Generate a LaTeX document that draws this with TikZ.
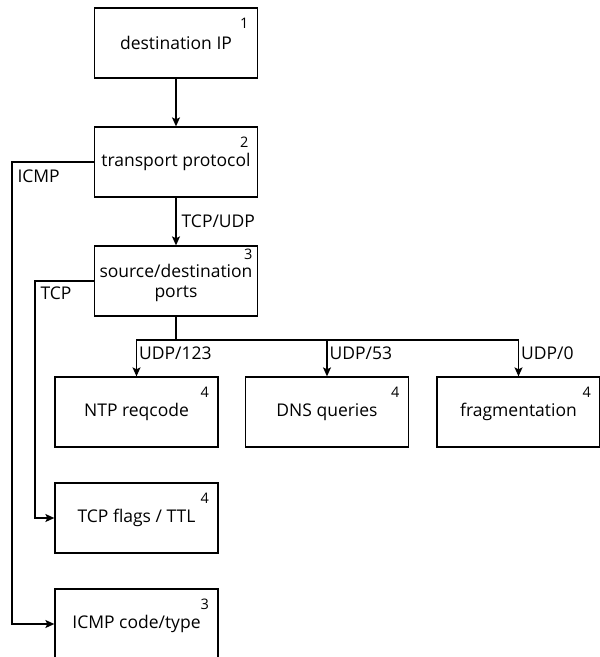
\documentclass[tikz,border=0pt]{standalone}
\usepackage{fontspec}
\setmainfont{Open Sans}
\usepackage{tikz}
\usetikzlibrary{arrows.meta, positioning, calc}

\begin{document}
\begin{tikzpicture}[x=1pt, y=-1pt, line width=1.3pt,
    >={Stealth[length=9pt, width=8pt, inset=2pt]},
    box/.style={draw, minimum width=163pt, minimum height=70pt, align=center, inner sep=0pt, font=\fontsize{17.5}{20}\selectfont},
    num/.style={anchor=north east, inner sep=0pt, font=\fontsize{14.5}{16}\selectfont},
    lbl/.style={font=\fontsize{17.5}{20}\selectfont, inner sep=2pt}]
          \useasboundingbox (0,0) rectangle (600,657);

          \node[box] (dst) at (176,43) {destination IP};
          \node[box] (proto) at (176,162) {transport protocol};
          \node[box, text depth=0pt] (ports) at (176,281) {source/destination\\ports};
          \node[box] (ntp) at (136.5,412) {NTP reqcode};
          \node[box] (dns) at (327,412) {DNS queries};
          \node[box] (frag) at (518.5,412) {fragmentation};
          \node[box] (tcpf) at (136.5,518) {TCP flags / TTL};
          \node[box] (icmp) at (136.5,624) {ICMP code/type};

          \node[num] (n1) at ($(dst.north east)+(-9,10)$) {1};
          \node[num] (n2) at ($(proto.north east)+(-9,10)$) {2};
          \node[num] (n3) at ($(ports.north east)+(-5,3)$) {3};
          \node[num] (n4a) at ($(ntp.north east)+(-9,10)$) {4};
          \node[num] (n4b) at ($(dns.north east)+(-9,10)$) {4};
          \node[num] (n4c) at ($(frag.north east)+(-9,10)$) {4};
          \node[num] (n4d) at ($(tcpf.north east)+(-9,10)$) {4};
          \node[num] (n3b) at ($(icmp.north east)+(-9,10)$) {3};

          \coordinate (bus) at (176,340);

          \draw[->] (dst) -- (proto);
          \draw[->] (proto) -- node[lbl, right=3pt] (ludp) {TCP/UDP} (ports);
          \draw[->] (proto.west) -- ++(-82,0) node[lbl, below right=5pt and 3pt] (licmp) {ICMP} |- (icmp.west);
          \draw[->] (ports.west) -- ++(-59,0) node[lbl, below right=3pt and 3pt] (ltcp) {TCP} |- (tcpf.west);
          \draw (ports.south) -- (bus);
          \draw[->] (bus) -| node[lbl, pos=0.68, right] (l123) {UDP/123} (ntp.north);
          \draw[->] (bus) -| node[lbl, pos=0.68, right] (l53) {UDP/53} (dns.north);
          \draw[->] (bus) -| node[lbl, pos=0.68, right] (l0) {UDP/0} (frag.north);
        \end{tikzpicture}
\end{document}
